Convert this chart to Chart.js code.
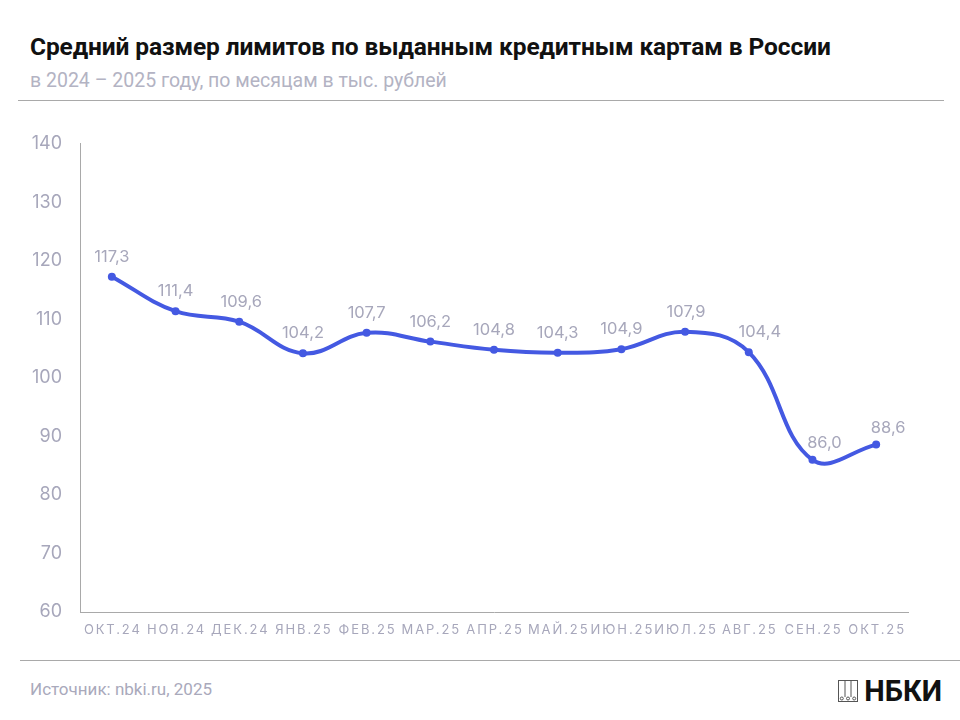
<!DOCTYPE html>
<html lang="ru">
<head>
<meta charset="utf-8">
<script src="https://cdn.jsdelivr.net/npm/chart.js@4.4.1/dist/chart.umd.min.js"></script>
<style>
  html, body { margin: 0; padding: 0; background: #fff; }
  body { width: 960px; height: 720px; position: relative; overflow: hidden; font-family: Roboto, "Noto Sans", sans-serif; }
  #title { position: absolute; left: 30px; top: 32px; font-size: 24.5px; font-weight: 700; color: #111; letter-spacing: -0.1px; }
  #subtitle { position: absolute; left: 30px; top: 69px; font-size: 19.5px; color: #b3b3c3; }
  .rule { position: absolute; height: 1px; background: #a9a9a9; }
  #wrap { position: absolute; left: 0; top: 115px; width: 960px; height: 545px; }
  #source { position: absolute; left: 30px; top: 679px; font-size: 17px; color: #a9a9bb; }
  #logo { position: absolute; right: 18px; top: 674px; font-size: 29px; font-weight: 700; color: #111; display: flex; align-items: center; gap: 6px; }
  #logo svg { display: block; }
</style>
</head>
<body>
<div id="title">Средний размер лимитов по выданным кредитным картам в России</div>
<div id="subtitle">в 2024 – 2025 году, по месяцам в тыс. рублей</div>
<div class="rule" style="left:18px; width:926px; top:100px;"></div>
<div id="wrap"><canvas id="myChart"></canvas></div>
<div class="rule" style="left:20px; width:940px; top:660px;"></div>
<div id="source">Источник: nbki.ru, 2025</div>
<div id="logo">
  <svg width="20" height="22" viewBox="0 0 20 22">
    <rect x="0.5" y="0.5" width="19" height="21" fill="none" stroke="#555" stroke-width="1"/>
    <line x1="7" y1="0.5" x2="7" y2="17" stroke="#555"/>
    <line x1="13" y1="0.5" x2="13" y2="17" stroke="#555"/>
    <circle cx="3.8" cy="18.5" r="1.5" fill="none" stroke="#555"/>
    <circle cx="10" cy="18.5" r="1.5" fill="none" stroke="#555"/>
    <circle cx="16.2" cy="18.5" r="1.5" fill="none" stroke="#555"/>
  </svg>
  <span>НБКИ</span>
</div>

<script>
const months = ["ОКТ.24", "НОЯ.24", "ДЕК.24", "ЯНВ.25", "ФЕВ.25", "МАР.25", "АПР.25", "МАЙ.25", "ИЮН.25", "ИЮЛ.25", "АВГ.25", "СЕН.25", "ОКТ.25"]
const limits = [117.3, 111.4, 109.6, 104.2, 107.7, 106.2, 104.8, 104.3, 104.9, 107.9, 104.4, 86.0, 88.6]
const yTicks = [60, 70, 80, 90, 100, 110, 120, 130, 140]

const lineColor = "#4459e2"
const textGray = "#a7a7bb"

// сдвиг подписей вправо, чтобы не налезали на линию (последние три точки)
const labelShiftX = [0, 0, 2, 0, 0, 0, 0, 0, 0, 1, 11, 12, 12]

// подписи значений над точками и подписи месяцев
const labelsPlugin = {
    id: 'labelsPlugin',
    afterDatasetsDraw(chart) {
        const ctx = chart.ctx
        const meta = chart.getDatasetMeta(0)
        ctx.save()
        ctx.font = '16.5px Inter, Roboto, sans-serif'
        ctx.fillStyle = textGray
        ctx.textAlign = 'center'
        ctx.textBaseline = 'middle'
        meta.data.forEach((pt, i) => {
            const dy = i >= 11 ? 17 : 20
            ctx.fillText(limits[i].toFixed(1).replace('.', ','), pt.x + labelShiftX[i], pt.y - dy)
        })
        // месяцы
        const xs = chart.scales.x
        ctx.font = '13px Inter, Roboto, sans-serif'
        ctx.letterSpacing = '1.9px'
        xs.ticks.forEach((t, i) => {
            ctx.fillText(months[i], xs.getPixelForTick(i) + 1, chart.chartArea.bottom + 18)
        })
        ctx.restore()
    }
}

const config = {
    type: 'line',
    data: {
        labels: months,
        datasets: [{
            data: limits,
            borderColor: lineColor,
            backgroundColor: lineColor,
            borderWidth: 4,
            tension: 0.4,
            pointRadius: 4,
            pointHoverRadius: 4,
            pointBackgroundColor: lineColor,
            pointBorderWidth: 0
        }]
    },
    options: {
        responsive: true,
        maintainAspectRatio: false,
        animation: false,
        layout: { padding: { top: 18, right: 52, left: 0, bottom: 0 } },
        plugins: { legend: { display: false }, tooltip: { enabled: false } },
        scales: {
            x: {
                offset: true,
                grid: { display: false, drawTicks: false },
                border: { color: '#a9a9a9', width: 1 },
                ticks: { display: false },
                afterFit(scale) { scale.height = 48 }
            },
            y: {
                min: 60,
                max: 140,
                afterBuildTicks(scale) { scale.ticks = yTicks.map(v => ({ value: v })) },
                grid: { display: false, drawTicks: false },
                border: { color: '#a9a9a9', width: 1 },
                ticks: {
                    padding: 18,
                    color: textGray,
                    font: { family: 'Inter, Roboto, sans-serif', size: 18 }
                },
                afterFit(scale) { scale.width = 80 }
            }
        }
    },
    plugins: [labelsPlugin]
}

new Chart(document.getElementById('myChart'), config)
</script>
</body>
</html>
